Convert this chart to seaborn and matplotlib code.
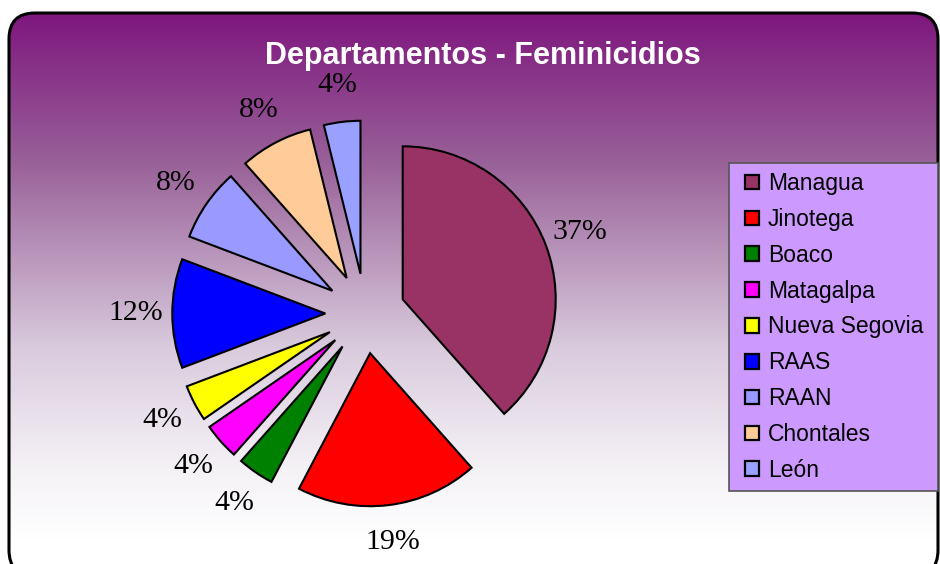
import numpy as np
import matplotlib
matplotlib.use("Agg")
import matplotlib.pyplot as plt
from matplotlib.patches import FancyBboxPatch, Rectangle
import seaborn as sns

departamentos = ["Managua", "Jinotega", "Boaco", "Matagalpa", "Nueva Segovia",
                 "RAAS", "RAAN", "Chontales", "León"]
casos = [10, 5, 1, 1, 1, 3, 2, 2, 1]
etiquetas = ["37%", "19%", "4%", "4%", "4%", "12%", "8%", "8%", "4%"]
colores = ["#993366", "#FF0000", "#008000", "#FF00FF", "#FFFF00",
           "#0000FF", "#9999FF", "#FFCC99", "#99A0FF"]
titulo = "Departamentos - Feminicidios"

sns.set_theme(style="white")
plt.rcParams['font.family'] = ['Liberation Sans', 'DejaVu Sans']
plt.rcParams['text.color'] = 'black'

W, H = 940, 564
fig = plt.figure(figsize=(W / 100, H / 100), dpi=100)
fig.patch.set_facecolor("white")
ax = fig.add_axes([0, 0, 1, 1])

_it = iter(etiquetas)
wedges, texts, autotexts = ax.pie(
    casos, colors=colores, startangle=90, counterclock=False,
    center=(365.3, 250.5), radius=153, explode=[40] * len(casos),
    autopct=lambda p: next(_it), pctdistance=1.24,
    wedgeprops=dict(edgecolor='black', linewidth=1.5),
    textprops=dict(family=['Liberation Serif', 'DejaVu Serif'], fontsize=21.5, color='black'),
)
for w in wedges:
    w.set_zorder(3)
for t in autotexts:
    t.set_zorder(4)

# gradient background inside rounded frame (purple at top fading to white)
rows = np.arange(H)
stops_y = [13, 160, 350, 470, 540]
stops_r = [126, 152, 218, 245, 255]
stops_g = [22, 96, 204, 242, 255]
stops_b = [126, 152, 222, 246, 255]
grad = np.stack([np.interp(rows, stops_y, stops_r),
                 np.interp(rows, stops_y, stops_g),
                 np.interp(rows, stops_y, stops_b)], axis=1) / 255.0
img = np.repeat(grad[:, None, :], 2, axis=1)
im = ax.imshow(img, extent=(0, W, 0, H), origin='upper', aspect='auto', zorder=0)
frame = FancyBboxPatch((9, -12), 929, H - 13 + 12,
                       boxstyle="round,pad=0,rounding_size=26",
                       facecolor='none', edgecolor='black', linewidth=2.2, zorder=1)
ax.add_patch(frame)
im.set_clip_path(frame)

# legend box
ax.add_patch(Rectangle((729, H - 491), 209, 328, facecolor='#CC99FF',
                       edgecolor='#555555', linewidth=1.2, zorder=5))

ax.set_xlim(0, W)
ax.set_ylim(0, H)
ax.set_aspect('equal')
ax.axis('off')

fig.text(483 / W, 1 - 56 / H, titulo, color='white', fontsize=22, fontweight='bold',
         ha='center', va='center')

leg = fig.legend(
    wedges, departamentos,
    bbox_to_anchor=(736 / W, 1 - 163 / H),
    loc='upper left', borderaxespad=0,
    fontsize=16.5, labelspacing=0.56, handlelength=0.6, handleheight=0.6,
    handletextpad=0.4, borderpad=0.4, frameon=False)
leg.set_zorder(6)
for txt in leg.get_texts():
    txt.set_color('black')
for h in leg.legend_handles:
    h.set_edgecolor('black')
    h.set_linewidth(1.6)

fig.savefig("out.png", dpi=100)
